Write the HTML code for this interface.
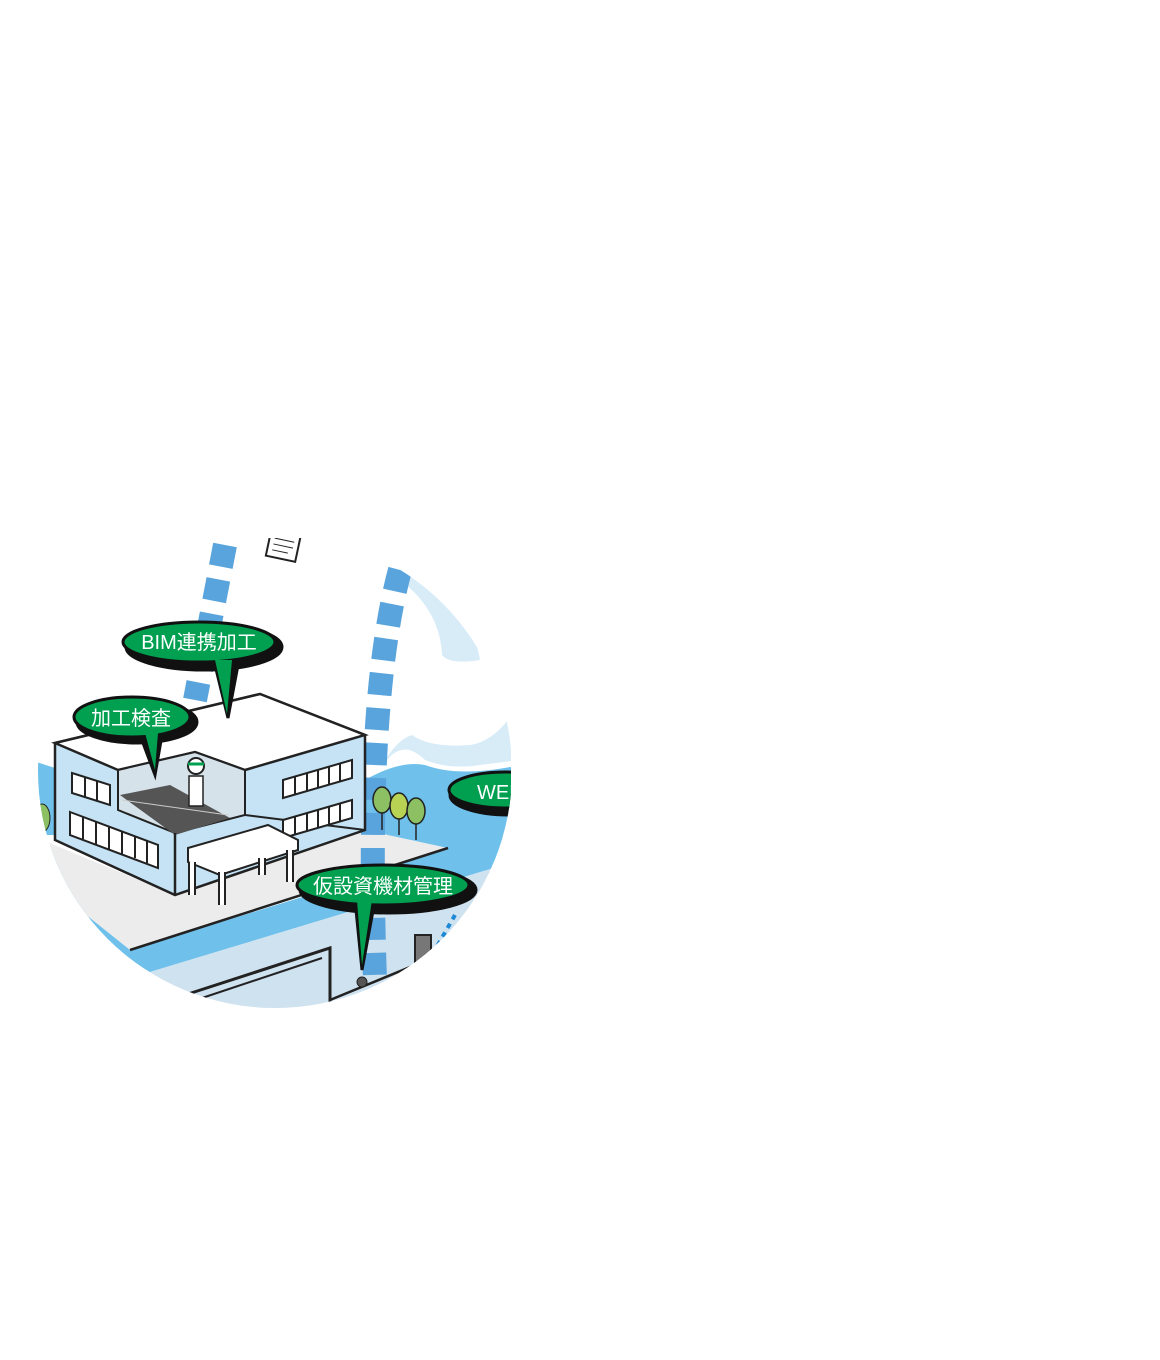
<!DOCTYPE html>
<html><head><meta charset="utf-8"><style>
html,body{margin:0;padding:0;background:#fff;width:1160px;height:1360px;overflow:hidden}
svg{position:absolute;left:0;top:0}
text{font-family:"Liberation Sans","Noto Sans CJK JP",sans-serif;font-weight:normal;fill:#fff}
</style></head><body>
<svg width="1160" height="1360" viewBox="0 0 1160 1360">
<defs>
<clipPath id="c"><rect x="0" y="538" width="511" height="480"/></clipPath>
<clipPath id="circ"><circle cx="275" cy="771" r="237"/></clipPath>
</defs>
<g clip-path="url(#c)"><g clip-path="url(#circ)">
<rect x="0" y="530" width="520" height="490" fill="#fff"/>
<!-- light sky -->
<path d="M400 560 Q470 600 480 660 Q450 665 442 655 Q440 610 400 580Z" fill="#d8ecf8"/>
<path d="M380 770 Q400 735 425 760 Q450 770 480 765 L520 760 L520 700 Q500 740 470 745 Q430 748 412 735 Q395 740 380 770Z" fill="#d8ecf8"/>
<!-- blue ground -->
<path d="M30 760 L55 768 L55 835 L35 835Z" fill="#6fc1ec"/>
<path d="M365 780 Q400 760 425 765 Q460 778 520 765 L520 850 L440 880 L365 860Z" fill="#6fc1ec"/>
<path d="M40 835 L130 950 L520 830 L520 860 L140 975 L30 900Z" fill="#6fc1ec"/>
<!-- gray ground -->
<path d="M30 835 L175 895 L365 830 L448 848 L130 950 L30 870Z" fill="#ececec"/>
<path d="M130 950 L448 848" stroke="#222" stroke-width="2.5"/>
<!-- lower area -->
<path d="M140 975 L520 860 L520 1020 L100 1020Z" fill="#cfe2ef"/>
<path d="M185 995 L330 948 L330 1010" stroke="#222" stroke-width="3" fill="none"/>
<path d="M190 1002 L322 958" stroke="#222" stroke-width="2" fill="none"/>
<rect x="415" y="935" width="16" height="30" fill="#777" stroke="#222" stroke-width="2"/>
<path d="M330 1000 L500 930" stroke="#222" stroke-width="2.5"/>
<!-- dashed blue connectors -->
<g stroke="#59a4dc" stroke-width="24" stroke-dasharray="22 13" fill="none">
<path d="M225 545 L195 700"/>
<path d="M400 570 Q365 700 375 980"/>
</g>
<path d="M455 915 L435 950" stroke="#1e8ad6" stroke-width="4" stroke-dasharray="5 5"/>
<!-- paper -->
<g transform="rotate(12 283 547)"><rect x="268" y="533" width="30" height="26" fill="#fff" stroke="#222" stroke-width="2"/>
<path d="M273 540 h20 M273 546 h20 M273 552 h16" stroke="#222" stroke-width="1"/></g>
<!-- building -->
<path d="M55 743 L260 694 L365 735 L365 830 L175 895 L55 840Z" fill="#c5e3f5" stroke="#222" stroke-width="2.5"/>
<path d="M55 743 L260 694 L365 735 L245 770 L195 752 L118 770Z" fill="#fff" stroke="#222" stroke-width="2.5"/>
<path d="M118 770 L118 810 L175 833 L245 815 L245 770 L195 752Z" fill="#d6e2ea" stroke="#222" stroke-width="2"/>
<path d="M120 795 L175 835 L230 818 L170 785Z" fill="#555"/>
<path d="M122 800 L228 815" stroke="#ccc" stroke-width="1"/>
<path d="M175 833 L175 895" stroke="#222" stroke-width="2.5"/>
<path d="M245 770 L245 815 L365 830" stroke="#222" stroke-width="2" fill="none"/>
<g fill="#fff" stroke="#222" stroke-width="2">
<path d="M72 773 L110 785 L110 805 L72 793Z"/>
<path d="M85 777 v20 M97 781 v20"/>
<path d="M70 812 L158 845 L158 868 L70 835Z"/>
<path d="M83 817 v22 M96 822 v22 M109 827 v22 M122 832 v22 M135 836 v22 M147 841 v22"/>
<path d="M283 780 L352 760 L352 778 L283 798Z"/>
<path d="M295 777 v18 M307 773 v18 M318 770 v18 M329 767 v18 M340 763 v18"/>
<path d="M283 820 L352 800 L352 818 L283 838Z"/>
<path d="M295 817 v18 M307 813 v18 M318 810 v18 M329 807 v18 M340 803 v18"/>
<path d="M188 848 L268 825 L298 840 L298 850 L220 875 L188 862Z"/>
<path d="M192 862 L192 895 M222 872 L222 905 M290 850 L290 882 M262 858 L262 875" stroke-width="8"/>
<path d="M192 862 L192 895 M222 872 L222 905 M290 850 L290 882 M262 858 L262 875" stroke="#fff" stroke-width="4"/>
</g>
<circle cx="196" cy="766" r="8" fill="#fff" stroke="#222" stroke-width="2"/>
<path d="M188 764 h16" stroke="#00a050" stroke-width="3"/>
<rect x="189" y="776" width="14" height="30" fill="#fff" stroke="#222" stroke-width="1.5"/>
<!-- trees -->
<g stroke="#222" stroke-width="1.5"><ellipse cx="382" cy="800" rx="9" ry="13" fill="#8cc063"/><ellipse cx="399" cy="806" rx="9" ry="13" fill="#b8d254"/><ellipse cx="416" cy="811" rx="9" ry="13" fill="#8cc063"/>
<path d="M382 813 L382 830 M399 819 L399 835 M416 824 L416 840"/></g>
<ellipse cx="42" cy="818" rx="8" ry="14" fill="#8cc063" stroke="#222"/>
<!-- bubbles -->
<g stroke="#111" stroke-width="3">
<path d="M215 665 L228 718 L238 665Z" fill="#111"/>
<ellipse cx="204" cy="647" rx="78" ry="23" fill="#111"/>
<ellipse cx="199" cy="642" rx="76" ry="20" fill="#00a050"/>
<path d="M215 660 L227 714 L232 660" fill="#00a050" stroke="none"/>
<path d="M140 735 L155 775 L162 735Z" fill="#111"/>
<ellipse cx="137" cy="722" rx="60" ry="21" fill="#111"/>
<ellipse cx="132" cy="717" rx="58" ry="20" fill="#00a050"/>
<path d="M145 733 L155 770 L158 733" fill="#00a050" stroke="none"/>
<path d="M355 900 L362 970 L375 900Z" fill="#111"/>
<ellipse cx="388" cy="890" rx="88" ry="23" fill="#111"/>
<ellipse cx="383" cy="885" rx="86" ry="20" fill="#00a050"/>
<path d="M357 900 L362 965 L372 900" fill="#00a050" stroke="none"/>
<ellipse cx="508" cy="795" rx="58" ry="20" fill="#111"/>
<ellipse cx="505" cy="790" rx="56" ry="18" fill="#00a050"/>
</g>
<circle cx="362" cy="982" r="5" fill="#555" stroke="#222"/>
<text x="199" y="649" font-size="20" text-anchor="middle">BIM連携加工</text>
<text x="131" y="725" font-size="20" text-anchor="middle">加工検査</text>
<text x="383" y="893" font-size="20" text-anchor="middle">仮設資機材管理</text>
<text x="477" y="799" font-size="20">WEB</text>
</g></g>
</svg>
</body></html>
